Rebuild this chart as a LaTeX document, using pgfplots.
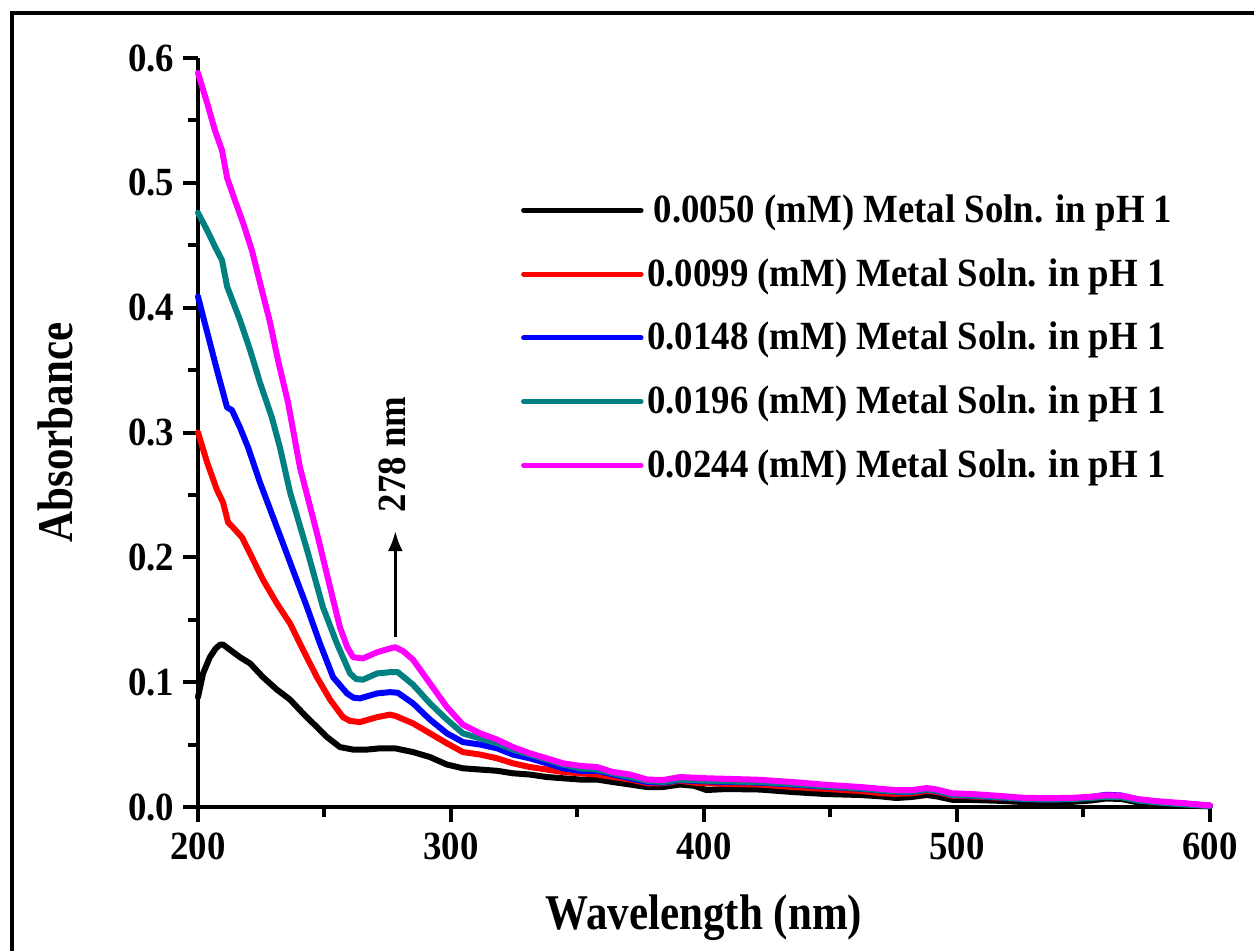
\documentclass[border=0pt]{standalone}
\usepackage{fontspec}
\setmainfont{Liberation Serif}[FakeStretch=0.92]
\newfontfamily\labelfont{Liberation Serif}[FakeStretch=0.86]
\usepackage{pgfplots}
\pgfplotsset{compat=1.18}
\usetikzlibrary{arrows.meta}
\definecolor{cteal}{RGB}{0,128,128}
\definecolor{cmag}{RGB}{255,0,255}

\begin{document}
\begin{tikzpicture}
\begin{axis}[
  name=ax, at={(0,0)}, anchor=south west,
  scale only axis, width=404.8pt, height=299.6pt,
  xmin=200, xmax=600, ymin=0, ymax=0.6,
  axis lines=left,
  axis line style={-, line width=1.6pt},
  xtick={200,300,400,500,600},
  minor xtick={250,350,450,550},
  ytick={0,0.1,0.2,0.3,0.4,0.5,0.6},
  minor ytick={0.05,0.15,0.25,0.35,0.45,0.55},
  tick align=outside,
  major tick length=6pt, minor tick length=4pt,
  every tick/.style={line width=1.6pt, black},
  /pgf/number format/assume math mode=true,
  yticklabel style={/pgf/number format/.cd, fixed, fixed zerofill, precision=1},
  xticklabel style={/pgf/number format/.cd, set thousands separator={}, /tikz/.cd, inner sep=1pt, yshift=-3pt},
  tick label style={font=\fontsize{16}{19}\selectfont\bfseries},
  xlabel={Wavelength (nm)}, ylabel={Absorbance},
  every axis x label/.style={at={(axis description cs:0.5,-0.1629)}, anchor=base, font=\labelfont\fontsize{20}{23}\selectfont\bfseries},
  every axis y label/.style={at={(axis description cs:-0.1413,0.5)}, rotate=90, anchor=center, font=\labelfont\fontsize{20}{23}\selectfont\bfseries},
  clip=false,
  legend cell align=left,
  legend style={draw=none, fill=none, at={(axis cs:327.5,0.494)}, anchor=north west,
    font=\fontsize{16}{19}\selectfont\bfseries, row sep=9.9pt, inner sep=0pt,
    nodes={inner sep=1.5pt}},
  legend image code/.code={\draw[#1, line width=2pt] (0pt,0pt) -- (47pt,0pt);},
  every axis plot/.append style={line width=2.4pt, line join=round, line cap=round},
]
\addplot[black] coordinates {
(200,0.088)(202,0.107)(204.7,0.120)(207,0.127)(208.7,0.130)(210,0.130)(212.6,0.126)(216.6,0.120)(220.6,0.115)(225.7,0.104)(231.2,0.094)(236.4,0.086)(241.5,0.075)(247.0,0.064)(251.0,0.056)(256.1,0.048)(261.3,0.046)(266.8,0.046)(271.9,0.047)(277.9,0.047)(285.0,0.044)(291.7,0.040)(298.4,0.034)(304.7,0.031)(311.5,0.030)(318.2,0.029)(324.5,0.027)(331.2,0.026)(337.9,0.024)(344.3,0.023)(351.0,0.022)(357.7,0.022)(364.0,0.020)(370.8,0.018)(377.5,0.016)(383.8,0.016)(390.5,0.018)
(396,0.017)(401,0.0136)(409,0.0144)(422,0.014)(435,0.012)(448,0.0104)(462,0.0096)(470,0.0085)(476,0.0072)(482,0.008)(488,0.0096)(492,0.0085)(498,0.0058)(506,0.0056)(516,0.005)(526,0.004)(536,0.004)(546,0.0042)(553,0.0052)(559,0.0068)(565,0.0064)(572,0.0035)(580,0.002)(590,0.0012)(600,0.0005)};
\addlegendentry{\,0.0050 (mM) Metal Soln. in pH 1}
\addplot[red] coordinates {
(200,0.300)(203.6,0.276)(207.5,0.254)(209.9,0.244)(211.9,0.228)(213.8,0.224)(217.4,0.216)(220.6,0.203)(225.7,0.182)(231.2,0.163)(236.4,0.147)(241.5,0.126)(247.0,0.104)(252.2,0.086)(257.3,0.072)(260,0.069)(264.0,0.068)(270.8,0.072)(275.9,0.074)(278,0.073)(285.0,0.067)(291.7,0.059)(298.4,0.051)(304.7,0.044)(311.5,0.042)(318.2,0.039)(324.5,0.035)(331.2,0.032)(337.9,0.030)(344.3,0.028)(351.0,0.027)(357.7,0.026)(364.0,0.024)(370.8,0.022)(377.5,0.019)(383.8,0.019)(390.5,0.021)
(396,0.0195)(401,0.019)(410,0.0185)(422,0.018)(435,0.016)(448,0.0145)(462,0.0128)(470,0.011)(476,0.0105)(482,0.011)(488,0.0128)(492,0.012)(498,0.009)(506,0.0085)(516,0.0075)(526,0.0064)(536,0.0062)(546,0.0068)(553,0.0078)(559,0.009)(565,0.0085)(572,0.0055)(580,0.004)(590,0.0025)(600,0.001)};
\addlegendentry{0.0099 (mM) Metal Soln. in pH 1}
\addplot[blue] coordinates {
(200,0.409)(202,0.393)(204.7,0.372)(207.5,0.350)(209.9,0.332)(211.5,0.320)(213.4,0.318)(216.6,0.304)(219.8,0.288)(224.5,0.260)(231.2,0.224)(237.5,0.190)(243.1,0.160)(248.2,0.131)(253.4,0.104)(258.9,0.091)(261.5,0.0875)(264.0,0.087)(270.8,0.091)(275.9,0.092)(279,0.0915)(285.0,0.083)(291.7,0.070)(298.4,0.059)(304.7,0.052)(311.5,0.050)(318.2,0.047)(324.5,0.042)(331.2,0.039)(337.9,0.035)(344.3,0.031)(351.0,0.029)(357.7,0.029)(364.0,0.026)(370.8,0.023)(377.5,0.020)(383.8,0.0195)(390.5,0.0215)
(396,0.021)(401,0.0205)(410,0.020)(422,0.0195)(435,0.018)(448,0.0162)(462,0.0146)(470,0.0132)(476,0.0122)(482,0.0122)(488,0.0138)(492,0.0128)(498,0.0096)(506,0.009)(516,0.0078)(526,0.0064)(536,0.006)(546,0.0066)(553,0.008)(559,0.0098)(565,0.0092)(572,0.0058)(580,0.004)(590,0.0025)(600,0.001)};
\addlegendentry{0.0148 (mM) Metal Soln. in pH 1}
\addplot[cteal] coordinates {
(200,0.476)(203.6,0.462)(206.7,0.449)(209.5,0.438)(211.5,0.417)(216.6,0.390)(220.6,0.366)(224.5,0.340)(229.2,0.312)(232.4,0.288)(236.4,0.252)(243.1,0.206)(249.4,0.160)(254.9,0.131)(260.1,0.107)(262.5,0.1025)(265.2,0.102)(270.8,0.107)(275.9,0.108)(279,0.108)(285.0,0.098)(291.7,0.083)(298.4,0.070)(304.7,0.059)(311.5,0.055)(318.2,0.051)(324.5,0.046)(331.2,0.042)(337.9,0.038)(344.3,0.034)(351.0,0.031)(357.7,0.030)(364.0,0.027)(370.8,0.024)(377.5,0.021)(383.8,0.020)(390.5,0.022)
(396,0.0215)(401,0.021)(410,0.0205)(422,0.020)(435,0.0185)(448,0.0165)(462,0.0148)(470,0.0134)(476,0.0124)(482,0.0124)(488,0.014)(492,0.013)(498,0.0098)(506,0.0092)(516,0.008)(526,0.0065)(536,0.006)(546,0.0064)(553,0.0072)(559,0.0082)(565,0.0078)(572,0.005)(580,0.0035)(590,0.002)(600,0.0008)};
\addlegendentry{0.0196 (mM) Metal Soln. in pH 1}
\addplot[cmag] coordinates {
(200,0.588)(203.6,0.564)(206.7,0.542)(209.5,0.526)(211.5,0.504)(214.6,0.486)(217.8,0.468)(221.3,0.446)(224.5,0.420)(228.5,0.388)(231.6,0.358)(235.6,0.324)(240.3,0.272)(247.0,0.2195)(252.2,0.176)(256.1,0.144)(259,0.128)(261.3,0.120)(265.2,0.119)(270.8,0.124)(275.9,0.127)(277.9,0.128)(281,0.125)(285.0,0.118)(291.7,0.099)(298.4,0.080)(304.7,0.066)(311.5,0.059)(318.2,0.054)(324.5,0.048)(331.2,0.043)(337.9,0.039)(344.3,0.035)(351.0,0.033)(357.7,0.032)(364.0,0.028)(370.8,0.026)(377.5,0.022)(383.8,0.0216)(390.5,0.024)
(396,0.0235)(401,0.023)(410,0.0225)(422,0.0218)(435,0.020)(448,0.0178)(462,0.016)(470,0.0145)(476,0.0135)(482,0.0135)(488,0.0152)(492,0.014)(498,0.011)(506,0.0104)(516,0.009)(526,0.0074)(536,0.007)(546,0.0074)(553,0.0082)(559,0.0094)(565,0.009)(572,0.0062)(580,0.0045)(590,0.003)(600,0.0012)};
\addlegendentry{0.0244 (mM) Metal Soln. in pH 1}
\draw[line width=1.2pt, -{Latex[length=8pt,width=6pt]}] (axis cs:278,0.136) -- (axis cs:278,0.221);
\node[rotate=90, font=\fontsize{16}{19}\selectfont\bfseries] at (axis cs:277,0.2825) {278 nm};
\end{axis}
\draw[line width=1.6pt] (-74.4pt,-70pt) -- (-74.4pt,317.6pt) -- (440pt,317.6pt);
\pgfresetboundingbox
\useasboundingbox (-79.2pt,-57.6pt) rectangle (422.4pt,322.8pt);
\end{tikzpicture}
\end{document}
